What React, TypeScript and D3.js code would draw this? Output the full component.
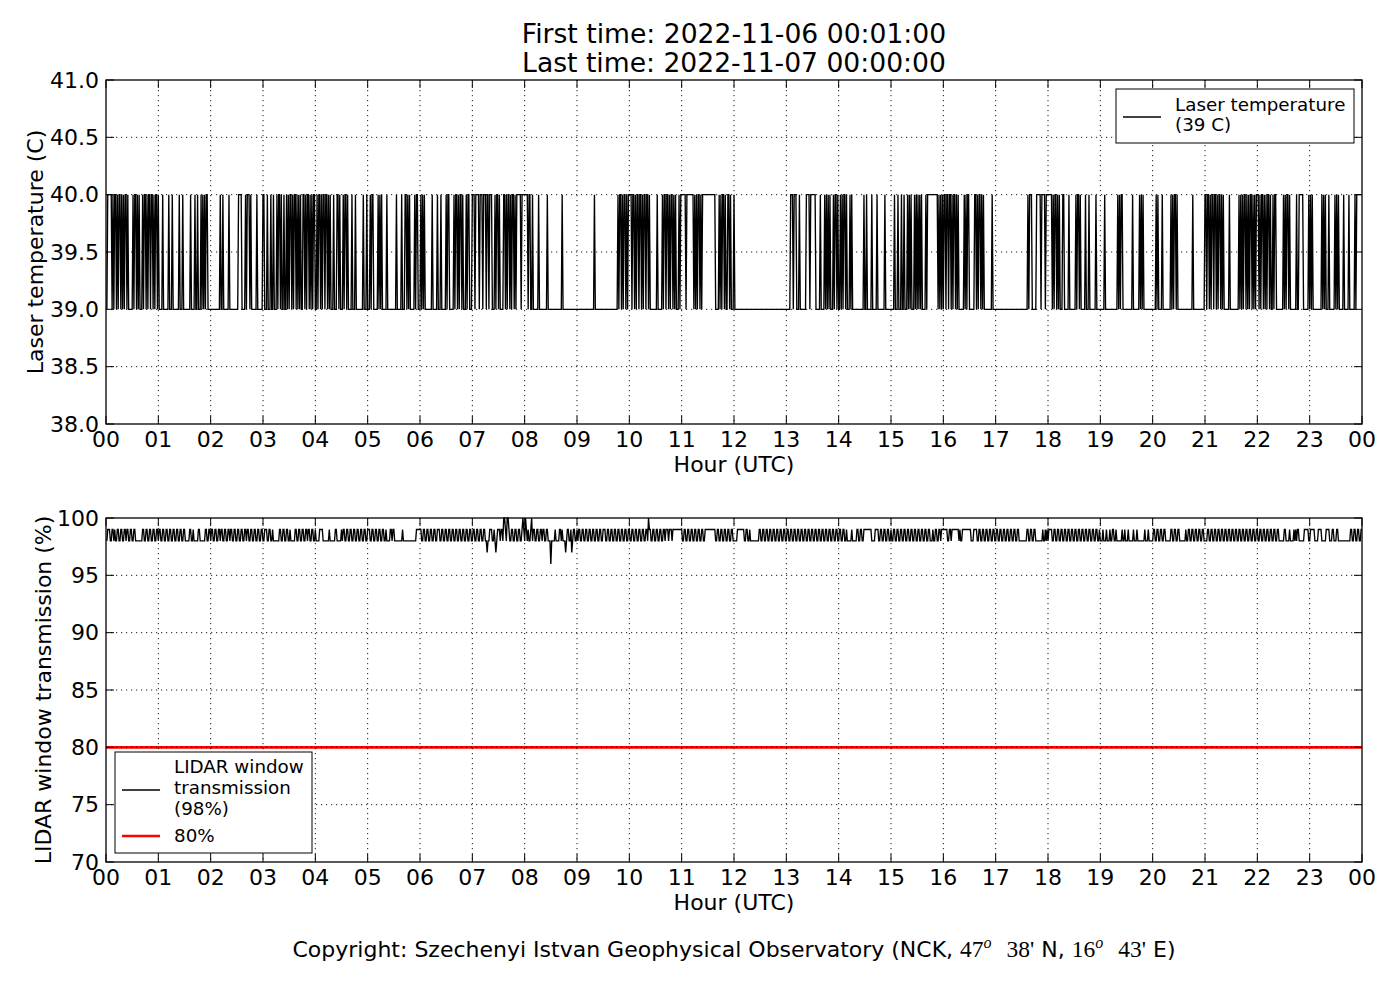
import * as d3 from 'd3'

const hourTicks = d3.range(0, 25)
const hourLabels = hourTicks.map(h => String(h % 24).padStart(2, '0'))
const tempTicks = [38.0, 38.5, 39.0, 39.5, 40.0, 40.5, 41.0]
const transTicks = [70, 75, 80, 85, 90, 95, 100]
const transLimit = 80

const titleLines = ['First time: 2022-11-06 00:01:00', 'Last time: 2022-11-07 00:00:00']

// one row per hour, one char per minute: '1' = 40 C, '0' = 39 C
const laserTempRows = [
  '0111110101 1010110101 0110100000 1011010100 0101101011 0110101101',
  '0000100000 0100010000 0001000100 0000001000 0100100010 1010110000',
  '0000000000 1001000000 1000000000 0111100001 0111010000 0010000001',
  '1000100010 0100010110 1001001010 1101011010 1010011010 1101010110',
  '0101101011 0110101000 1000110100 0101101000 0100010000 0000100010',
  '0010110000 0101010000 0100000000 0010000010 0011010100 0001011000',
  '1010100000 0001000001 0001000001 0110000010 1101011010 0010110001',
  '1101111011 1011101101 1100010110 1000011010 1101011010 1111101111',
  '1110110010 0000010000 0000010000 0000000000 0010000000 0000000000',
  '0000000000 0000000001 0000000000 0000000000 0000001011 0101101011',
  '1101101011 0110101101 1010000000 0100000101 1011010110 1010001011',
  '1111011111 1110101011 0101111111 1111111100 0010101101 0011010001',
  '0000000000 0000000000 0000000000 0000000000 0000000000 0000000000',
  '0000111011 1000100000 0011110111 1110000010 0001010101 0001011010',
  '0101011010 0010100000 0000000010 0100000100 0001000000 0010000000',
  '0001000100 0100100010 1010001010 1010100001 0111111111 1110101010',
  '1101101101 0110101000 0001010110 0000011010 1101010000 0000010000',
  '0000000000 0000000000 0000000000 0000001011 1000001111 1011110111',
  '1111010110 1010001100 0001000000 0101101000 0010001000 0000100000',
  '0000100000 0000000001 0101100000 0000001000 0000101010 0000000000',
  '0001010000 1000000000 1010110100 0000000000 0000010000 0000000001',
  '1011010110 1101011010 1000000100 0000000010 1010110101 0110101011',
  '1010110101 0110100101 1000000001 0101101000 0000100111 1100000010',
  '1010000000 0001010100 0100000010 1010000010 0000100000 0101111111',
]
const laserLevels: Record<string, number> = { '0': 39, '1': 40 }

// one row per hour, one char per minute: '6'..'9' = 96..99 %, '0' = 100 %
const windowRows = [
  '8999889989 8899889988 9989988998 8998888888 8998899889 9889988998',
  '9988998899 8899889988 9988998899 8888899889 8888899888 8889988998',
  '9988998899 8998899889 9899889988 9988998899 8998899889 9889988998',
  '8999889988 9888888899 8899889988 9888889988 9988998899 8998899889',
  '8888999988 8888898888 8899888889 8998899889 9889988998 8998899889',
  '9988998899 8899889988 9888899899 8888888889 8888888888 8888899999',
  '9889988998 8998899889 9988998899 8899889988 9988998899 8899889988',
  '9988998899 8899887889 9988987899 9899800980 0988998899 8899889098',
  '0989889089 9889988998 9988998886 8888988889 9898887899 8897899889',
  '8998899889 9889988998 8998899889 9988998899 8899889988 9988998899',
  '8899889988 9988998899 8099889988 9988998899 8999899989 9999999999',
  '8899889988 9988998899 8899889999 9999999988 9988998899 8899889988',
  '8889999999 9889988988 8888888899 8899889988 9988998899 8899889988',
  '9988998899 8899889988 9988998899 8899889988 9988998899 8899889988',
  '9988998898 8888988888 9988998899 9999999888 8999988998 8998899889',
  '8899889988 9988998899 8899889988 9988998899 8899888988 9988998999',
  '9999889989 9999999898 8999999999 9888999988 9988998899 8899889988',
  '9988998899 8899889988 9988998888 8888899889 9889988888 8889889898',
  '9999889988 9988998899 8899889988 9988998899 8899889988 9988998898',
  '8898889888 9889988988 8888988988 8988888988 8988888888 9888988888',
  '9988998899 8899888888 9988998899 8888888988 9988998899 8899889988',
  '8899889988 9988998899 8899889988 9988998899 8899889988 9988998899',
  '8899889988 9988998899 8899888888 9988889888 8989899888 8889999988',
  '9999988889 9998888899 9988899888 9988888888 8888889988 9988998899',
]
const windowLevels: Record<string, number> = { '6': 96, '7': 97, '8': 98, '9': 99, '0': 100 }

type Pt = [number, number]

function toSeries(rows: string[], levels: Record<string, number>): Pt[] {
  const out: Pt[] = []
  rows.forEach((row, h) => {
    const cells = row.replace(/\s+/g, '')
    for (let i = 0; i < cells.length; i++) {
      out.push([h + (i + 1) / cells.length, levels[cells[i]]])
    }
  })
  return out
}

const laserTemp = toSeries(laserTempRows, laserLevels)
const windowTrans = toSeries(windowRows, windowLevels)

const FONT = 'DejaVu Sans, sans-serif'
const MATH = 'Liberation Serif, DejaVu Serif, serif'
const L = 106
const R = 1362
const PH = 344
const TICK = 8

const x = d3.scaleLinear().domain([0, 24]).range([L, R])

function Panel(props: {
  top: number
  domain: [number, number]
  ticks: number[]
  fmt: (v: number) => string
  data: Pt[]
  label: string
  labelX: number
  limit?: number
}) {
  const { top, domain, ticks, fmt, data, label, labelX, limit } = props
  const y = d3.scaleLinear().domain(domain).range([top + PH, top])
  const line = d3.line<Pt>().x(d => x(d[0])).y(d => y(d[1]))
  const bottom = top + PH

  return (
    <g>
      <path d={line(data) ?? ''} fill="none" stroke="#000" strokeWidth={1.35} strokeLinejoin="miter" />
      {limit !== undefined && (
        <line x1={L} x2={R} y1={y(limit)} y2={y(limit)} stroke="#ff0000" strokeWidth={2.6} />
      )}
      {/* dotted grid */}
      {hourTicks.slice(1, -1).map(h => (
        <line key={'gx' + h} x1={x(h)} x2={x(h)} y1={top} y2={bottom}
          stroke="#000" strokeWidth={0.9} strokeDasharray="1.2 3.8" />
      ))}
      {ticks.slice(1, -1).map(t => (
        <line key={'gy' + t} x1={L} x2={R} y1={y(t)} y2={y(t)}
          stroke="#000" strokeWidth={0.9} strokeDasharray="1.2 3.8" />
      ))}
      {/* inward ticks on all sides */}
      {hourTicks.map(h => (
        <g key={'tx' + h}>
          <line x1={x(h)} x2={x(h)} y1={bottom} y2={bottom - TICK} stroke="#000" strokeWidth={1} />
          <line x1={x(h)} x2={x(h)} y1={top} y2={top + TICK} stroke="#000" strokeWidth={1} />
          <text x={x(h)} y={bottom + 23} textAnchor="middle" fontSize={22} fontFamily={FONT}>
            {hourLabels[h]}
          </text>
        </g>
      ))}
      {ticks.map(t => (
        <g key={'ty' + t}>
          <line x1={L} x2={L + TICK} y1={y(t)} y2={y(t)} stroke="#000" strokeWidth={1} />
          <line x1={R} x2={R - TICK} y1={y(t)} y2={y(t)} stroke="#000" strokeWidth={1} />
          <text x={L - 7} y={y(t) + 7.5} textAnchor="end" fontSize={22} fontFamily={FONT}>
            {fmt(t)}
          </text>
        </g>
      ))}
      <rect x={L} y={top} width={R - L} height={PH} fill="none" stroke="#000" strokeWidth={1.3} />
      <text x={(L + R) / 2} y={bottom + 48} textAnchor="middle" fontSize={22} fontFamily={FONT}>
        Hour (UTC)
      </text>
      <text transform={`translate(${labelX},${top + PH / 2}) rotate(-90)`} textAnchor="middle"
        fontSize={22} fontFamily={FONT}>
        {label}
      </text>
    </g>
  )
}

export default function App() {
  const cx = (L + R) / 2
  return (
    <svg width={1400} height={1000} style={{ position: 'absolute', left: 0, top: 0, background: '#fff' }}>
      <rect width={1400} height={1000} fill="#fff" />
      {titleLines.map((t, i) => (
        <text key={t} x={cx} y={43 + i * 29} textAnchor="middle" fontSize={26.6} fontFamily={FONT}>
          {t}
        </text>
      ))}

      <Panel top={80} domain={[38, 41]} ticks={tempTicks} fmt={v => v.toFixed(1)}
        data={laserTemp} label="Laser temperature (C)" labelX={43} />
      <Panel top={518} domain={[70, 100]} ticks={transTicks} fmt={v => String(v)}
        data={windowTrans} label="LIDAR window transmission (%)" labelX={51} limit={transLimit} />

      {/* legend, upper panel */}
      <g fontFamily={FONT} fontSize={18.3}>
        <rect x={1116} y={89} width={238} height={54} fill="#fff" stroke="#000" strokeWidth={1} />
        <line x1={1123} x2={1161} y1={117} y2={117} stroke="#000" strokeWidth={1.35} />
        <text x={1175} y={111}>Laser temperature</text>
        <text x={1175} y={131}>(39 C)</text>
      </g>

      {/* legend, lower panel */}
      <g fontFamily={FONT} fontSize={18.3}>
        <rect x={115} y={752} width={197} height={101} fill="#fff" stroke="#000" strokeWidth={1} />
        <line x1={122} x2={160} y1={790} y2={790} stroke="#000" strokeWidth={1.35} />
        <text x={174} y={773}>LIDAR window</text>
        <text x={174} y={794}>transmission</text>
        <text x={174} y={815}>(98%)</text>
        <line x1={122} x2={160} y1={836} y2={836} stroke="#ff0000" strokeWidth={2.6} />
        <text x={174} y={842}>80%</text>
      </g>

      <text x={cx} y={957} textAnchor="middle" fontSize={22} fontFamily={FONT}>
        {'Copyright: Szechenyi Istvan Geophysical Observatory (NCK, '}
        <tspan fontFamily={MATH} fontSize={23.5}>47</tspan>
        <tspan fontFamily={MATH} fontStyle="italic" fontSize={16} dy={-9}>o</tspan>
        <tspan fontFamily={MATH} fontSize={23.5} dy={9} dx={15}>{"38'"}</tspan>
        <tspan>{' N, '}</tspan>
        <tspan fontFamily={MATH} fontSize={23.5}>16</tspan>
        <tspan fontFamily={MATH} fontStyle="italic" fontSize={16} dy={-9}>o</tspan>
        <tspan fontFamily={MATH} fontSize={23.5} dy={9} dx={15}>{"43'"}</tspan>
        <tspan>{' E)'}</tspan>
      </text>
    </svg>
  )
}
